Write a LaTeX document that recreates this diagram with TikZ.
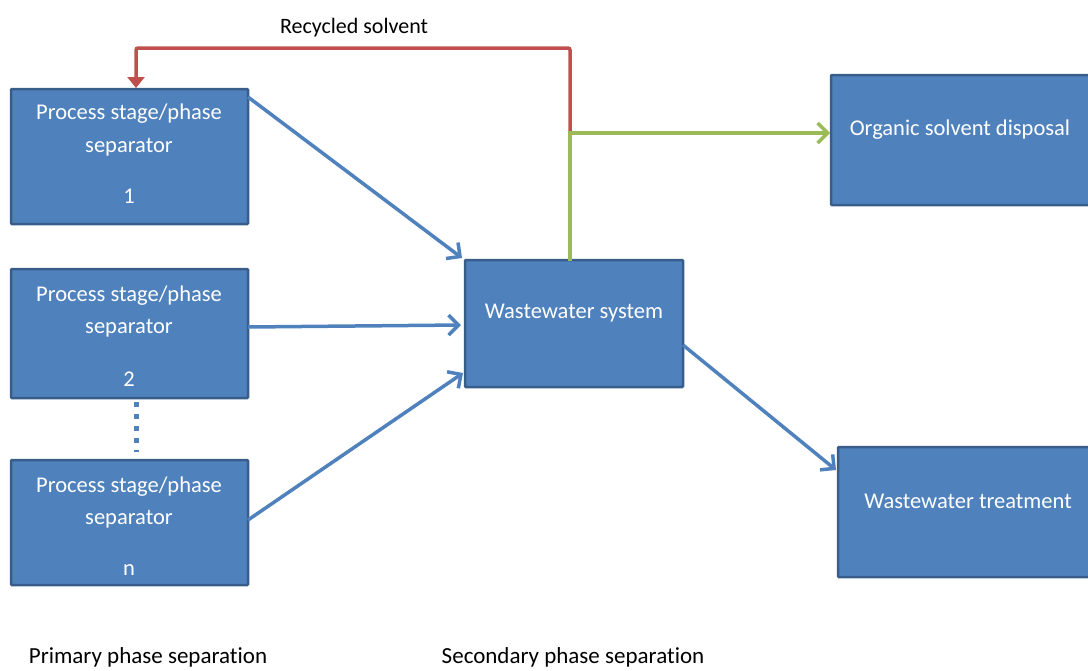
\documentclass[tikz,border=0pt]{standalone}
\usepackage{fontspec}
\setmainfont{Carlito}[Ligatures={NoCommon}]
\usetikzlibrary{arrows.meta}
\definecolor{boxfill}{HTML}{4F81BD}
\definecolor{boxedge}{HTML}{385D8A}
\definecolor{flowblue}{HTML}{4F81BD}
\definecolor{flowred}{HTML}{C0504D}
\definecolor{flowgreen}{HTML}{9BBB59}
\tikzset{
  blk/.style={draw=boxedge, line width=2.5pt, fill=boxfill, rounded corners=1pt, inner sep=0pt},
  blktext/.style={text=white, font=\fontsize{22.5}{26}\selectfont, inner sep=0pt, anchor=center},
  lbl/.style={text=black, font=\fontsize{22}{26}\selectfont, inner sep=0pt, anchor=center},
  btm/.style={text=black, font=\fontsize{23}{26}\selectfont, inner sep=0pt, anchor=center},
  flow/.style={line width=3.5pt, draw=flowblue, -{Straight Barb[length=10pt,width=20pt,line width=3.5pt]}},
  gflow/.style={line width=3.5pt, draw=flowgreen, -{Straight Barb[length=10pt,width=20pt,line width=3.5pt]}},
  rflow/.style={line width=3.5pt, draw=flowred, -{Triangle[length=11pt,width=17pt]}},
}
\begin{document}
\begin{tikzpicture}[x=1pt,y=-1pt]
\useasboundingbox (0,0) rectangle (1088,670);
% boxes
\node[blk, minimum width=237pt, minimum height=135pt] (p1) at (129.5,156.5) {};
\node[blk, minimum width=237pt, minimum height=129pt] (p2) at (129.5,333.5) {};
\node[blk, minimum width=237pt, minimum height=125pt] (pn) at (129.5,522.5) {};
\node[blk, minimum width=218pt, minimum height=127pt] (w) at (574,323.5) {};
\node[blk, minimum width=266pt, minimum height=130pt] (o) at (964,140) {};
\node[blk, minimum width=260pt, minimum height=130pt] (t) at (968,512) {};
% box texts
\node[blktext] (p1a) at (129,113.5) {Process stage/phase};
\node[blktext] (p1b) at (129,147.5) {separator};
\node[blktext] (p1c) at (129,196) {1};
\node[blktext] (p2a) at (129,295.5) {Process stage/phase};
\node[blktext] (p2b) at (129,328.5) {separator};
\node[blktext] (p2c) at (129,379) {2};
\node[blktext] (pna) at (129,486.5) {Process stage/phase};
\node[blktext] (pnb) at (129,519.5) {separator};
\node[blktext] (pnc) at (129,570) {n};
\node[blktext] (wt) at (574,313.5) {Wastewater system};
\node[blktext] (ot) at (960,129.5) {Organic solvent disposal};
\node[blktext] (tt) at (968,501.5) {Wastewater treatment};
% labels
\node[lbl] (rs) at (354,28) {Recycled solvent};
\node[btm] (prim) at (148,657) {Primary phase separation};
\node[btm] (sec) at (573,657) {Secondary phase separation};
% dotted link
\coordinate (d1) at (136,402);
\coordinate (d2) at (136,452);
\draw[draw=flowblue, line width=5pt, dash pattern=on 5pt off 7pt] (d1) -- (d2);
% connectors
\coordinate (p1out) at (248,97);
\coordinate (win1) at (462,258);
\coordinate (p2out) at (248,327);
\coordinate (win2) at (461,325);
\coordinate (pnout) at (248,520);
\coordinate (win3) at (463,373);
\coordinate (wout) at (683,345);
\coordinate (tin) at (836,470);
\draw[flow] (p1out) -- (win1);
\draw[flow] (p2out) -- (win2);
\draw[flow] (pnout) -- (win3);
\draw[flow] (wout) -- (tin);
\coordinate (junc) at (570,133);
\coordinate (wtop) at (570,261);
\coordinate (oin) at (830,133);
\coordinate (rtop) at (570,48);
\coordinate (ltop) at (136,48);
\coordinate (p1in) at (136,88);
\draw[rflow, rounded corners=2pt] (junc) -- (rtop) -- (ltop) -- (p1in);
\draw[gflow] (wtop) -- (junc) -- (oin);
\end{tikzpicture}
\end{document}
